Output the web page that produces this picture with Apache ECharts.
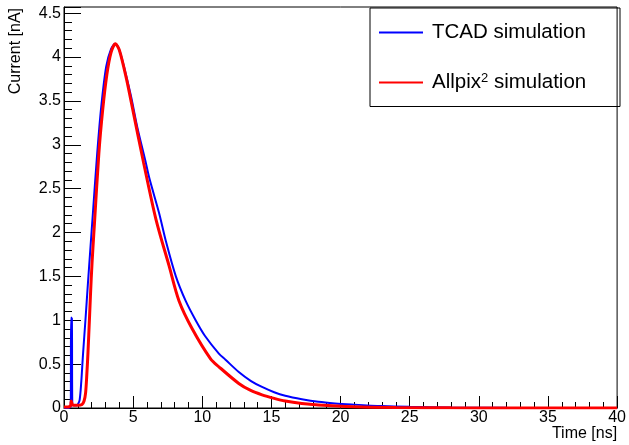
<!DOCTYPE html>
<html>
<head>
<meta charset="utf-8">
<script src="https://cdn.jsdelivr.net/npm/echarts@6/dist/echarts.min.js"></script>
<style>
html,body{margin:0;padding:0;background:#fff;}
#chart{width:629px;height:445px;}
</style>
</head>
<body>
<div id="chart"></div>
<script>
// Time axis values [ns] and currents [nA]
var tcadTime = [0, 0.3, 0.49, 0.51, 0.55, 0.57, 0.6, 0.7, 0.9, 1.0, 1.13, 1.25, 1.37, 1.55, 1.73, 1.9, 2.09, 2.4, 2.69, 3.05, 3.4, 3.7, 4.0, 4.4, 4.85, 5.3, 5.88, 6.17, 6.88, 7.37, 8.09, 8.8, 9.52, 10.2, 11.2, 11.68, 12.64, 13.5, 14.32, 15.2, 16.0, 17.2, 18.4, 19.6, 20.8, 23, 25, 28, 32, 36, 40];
var tcadCurrent = [0, 0, 0.02, 1.03, 1.03, 1.02, 0.05, 0.03, 0.03, 0.04, 0.09, 0.3, 0.6, 1.0, 1.42, 1.8, 2.22, 2.9, 3.43, 3.89, 4.09, 4.15, 4.08, 3.85, 3.55, 3.2, 2.82, 2.62, 2.22, 1.9, 1.5, 1.22, 1.0, 0.82, 0.62, 0.55, 0.41, 0.31, 0.24, 0.18, 0.14, 0.1, 0.07, 0.052, 0.04, 0.022, 0.013, 0.006, 0.002, 0.001, 0];
var allpixTime = [0, 0.45, 0.52, 0.6, 0.7, 1.0, 1.3, 1.45, 1.56, 1.65, 1.73, 1.85, 1.97, 2.09, 2.21, 2.52, 2.8, 3.1, 3.4, 3.72, 4.0, 4.49, 5.0, 5.75, 6.65, 7.6, 8.32, 9.28, 10.6, 11.2, 12.64, 13.5, 14.32, 15.2, 16.0, 17.2, 18.4, 21, 24, 28, 32, 36, 40];
var allpixCurrent = [0.01, 0.02, 0.08, 0.04, 0.03, 0.03, 0.04, 0.08, 0.17, 0.38, 0.62, 1.05, 1.48, 1.82, 2.12, 2.9, 3.4, 3.8, 4.05, 4.15, 4.08, 3.77, 3.38, 2.8, 2.15, 1.62, 1.22, 0.9, 0.56, 0.47, 0.28, 0.2, 0.15, 0.11, 0.08, 0.052, 0.035, 0.015, 0.006, 0.002, 0.001, 0, 0];
var xTicks = [0, 5, 10, 15, 20, 25, 30, 35, 40];
var yTicks = [0, 0.5, 1, 1.5, 2, 2.5, 3, 3.5, 4, 4.5];
var seriesNames = ['TCAD simulation', 'Allpix2 simulation'];
var seriesColors = ['#0000ff', '#ff0000'];

function pairs(xs, ys) {
  return xs.map(function (x, i) { return [x, ys[i]]; });
}

var FONT = 'Liberation Sans, Arial, Helvetica, sans-serif';
var chart = echarts.init(document.getElementById('chart'), null, {renderer: 'canvas'});
chart.setOption({
  animation: false,
  backgroundColor: '#ffffff',
  grid: {left: 64, right: 9, top: 7, bottom: 37, show: true, borderColor: '#000', borderWidth: 1, backgroundColor: 'transparent'},
  xAxis: {
    type: 'value', min: xTicks[0], max: xTicks[xTicks.length - 1], interval: xTicks[1] - xTicks[0],
    name: 'Time [ns]', nameLocation: 'end', nameGap: 0,
    nameTextStyle: {fontFamily: FONT, fontSize: 16, color: '#000', align: 'right', verticalAlign: 'top', padding: [18, 0, 0, 0]},
    axisLine: {show: true, lineStyle: {color: '#000', width: 1}},
    axisTick: {show: true, inside: true, length: 12, lineStyle: {color: '#000'}},
    minorTick: {show: true, splitNumber: 5, length: 6, lineStyle: {color: '#000'}},
    splitLine: {show: false},
    axisLabel: {fontFamily: FONT, fontSize: 16, color: '#000', margin: 2}
  },
  yAxis: {
    type: 'value', min: yTicks[0], max: 4.57, interval: yTicks[1] - yTicks[0],
    name: 'Current [nA]', nameLocation: 'end', nameRotate: 90, nameGap: -1,
    nameTextStyle: {fontFamily: FONT, fontSize: 16, color: '#000', align: 'right', verticalAlign: 'bottom', padding: [0, 0, 40, 0]},
    axisLine: {show: true, lineStyle: {color: '#000', width: 1}},
    axisTick: {show: true, inside: true, length: 17, lineStyle: {color: '#000'}},
    minorTick: {show: true, splitNumber: 5, length: 8, lineStyle: {color: '#000'}},
    splitLine: {show: false},
    axisLabel: {fontFamily: FONT, fontSize: 16, color: '#000', margin: 3, showMaxLabel: false,
      formatter: function (v) { return yTicks.indexOf(Math.round(v * 100) / 100) >= 0 ? String(v) : ''; }}
  },
  legend: {
    orient: 'vertical', left: 370, top: 7,
    padding: [15, 10, 15, 9], itemGap: 29, itemWidth: 44, itemHeight: 2,
    icon: 'rect',
    data: seriesNames,
    textStyle: {fontFamily: FONT, fontSize: 20.5, color: '#000', padding: [0, 0, 0, 4],
      rich: {t: {fontFamily: FONT, fontSize: 20.5, color: '#000'}, s: {fontFamily: FONT, fontSize: 13, color: '#000', verticalAlign: 'top'}}},
    formatter: function (n) { return n === seriesNames[1] ? '{t|Allpix}{s|2}{t| simulation}' : '{t|' + n + '}'; }
  },
  graphic: [{
    type: 'rect', left: 369.5, top: 7.5, z: -1,
    shape: {width: 250, height: 98.5},
    style: {fill: '#fff', stroke: '#000', lineWidth: 1}
  }],
  series: [
    {name: seriesNames[0], type: 'line', data: pairs(tcadTime, tcadCurrent), showSymbol: false, symbol: 'none',
      smooth: 0.3,
      lineStyle: {color: seriesColors[0], width: 2}, itemStyle: {color: seriesColors[0]}, z: 2},
    {name: seriesNames[1], type: 'line', data: pairs(allpixTime, allpixCurrent), showSymbol: false, symbol: 'none',
      smooth: 0.3,
      lineStyle: {color: seriesColors[1], width: 3}, itemStyle: {color: seriesColors[1]}, z: 3}
  ]
});
</script>
</body>
</html>
